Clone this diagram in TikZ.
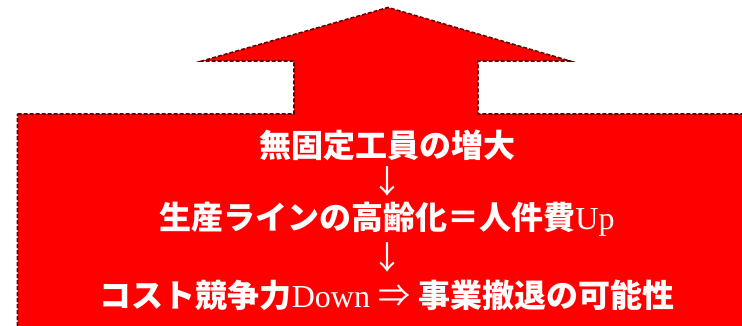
\documentclass[tikz,border=0pt]{standalone}
\usepackage{fontspec}
\setmainfont{Liberation Serif}
\newfontfamily\jpfont{Noto Sans CJK JP}
\begin{document}
\begin{tikzpicture}[x=1pt, y=-1pt,
		outline/.style={fill=red, draw=red!40!black, dash pattern=on 4pt off 2pt, line width=1.6pt},
		label/.style={text=white, font=\fontsize{32}{34}\selectfont, inner sep=0pt}]
		\useasboundingbox (0,0) rectangle (742,326);
		\clip (0,0) rectangle (742,326);
		% up arrow with wide base
		\draw[outline] (17.5,114) -- (294,114) -- (294,61) -- (202,61) -- (388,7.5) -- (570,61)
			-- (478,61) -- (478,114) -- (760,114) -- (760,340) -- (17.5,340) -- cycle;
		\node[label] (idle) at (387,145) {\jpfont\bfseries 無固定工員の増大};
		\node[label] (down1) at (387,181) {\jpfont ↓};
		\node[label] (aging) at (387,219) {{\jpfont\bfseries 生産ラインの高齢化＝人件費}Up};
		\node[label] (down2) at (387,257) {\jpfont ↓};
		\node[label] (exit) at (387,295) {{\jpfont\bfseries コスト競争力}Down {\jpfont ⇒} {\jpfont\bfseries 事業撤退の可能性}};
\end{tikzpicture}
\end{document}
